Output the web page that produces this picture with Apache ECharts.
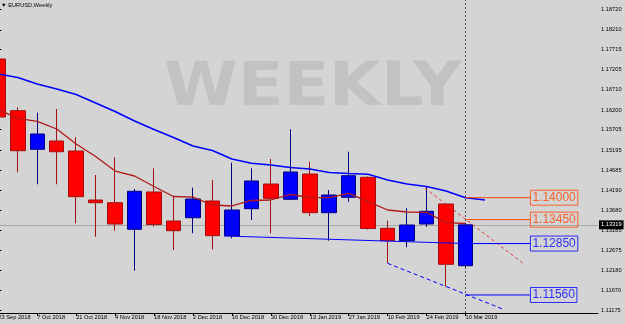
<!DOCTYPE html>
<html><head><meta charset="utf-8">
<script src="https://cdn.jsdelivr.net/npm/echarts@6/dist/echarts.min.js"></script>
<style>html,body{margin:0;padding:0;background:#d4d4d4;}#c{width:625px;height:324px;}</style>
</head><body><div id="c"></div>
<script>
// ---- data (EURUSD weekly) ----
const weeks = ['23 Sep 2018','30 Sep 2018','7 Oct 2018','14 Oct 2018','21 Oct 2018','28 Oct 2018','4 Nov 2018','11 Nov 2018','18 Nov 2018','25 Nov 2018','2 Dec 2018','9 Dec 2018','16 Dec 2018','23 Dec 2018','30 Dec 2018','6 Jan 2019','13 Jan 2019','20 Jan 2019','27 Jan 2019','3 Feb 2019','10 Feb 2019','17 Feb 2019','24 Feb 2019','3 Mar 2019','10 Mar 2019'];
const open  = [1.17478,1.16182,1.15214,1.15422,1.15171,1.13942,1.13874,1.13207,1.14143,1.13415,1.13498,1.13917,1.13047,1.13724,1.14343,1.13960,1.14594,1.13624,1.14010,1.14511,1.13232,1.12921,1.13340,1.13842,1.12294];
const high  = [1.18130,1.16267,1.16132,1.16224,1.15515,1.14569,1.15013,1.14218,1.14737,1.14042,1.14251,1.14444,1.14878,1.14737,1.14970,1.15715,1.14903,1.14193,1.15153,1.14531,1.13423,1.13734,1.14293,1.13859,1.13373];
const low   = [1.15698,1.14637,1.14336,1.14336,1.13358,1.13022,1.13172,1.12169,1.13272,1.12688,1.13107,1.12706,1.12981,1.13440,1.13107,1.13942,1.13541,1.12921,1.13899,1.13202,1.12354,1.12756,1.13272,1.11768,1.12254];
const close = [1.16024,1.15178,1.15597,1.15153,1.14025,1.13874,1.13340,1.14160,1.13328,1.13172,1.13967,1.13047,1.13691,1.14419,1.13985,1.14644,1.13624,1.14067,1.14551,1.13227,1.12921,1.13315,1.13659,1.12329,1.13319];
// moving averages (slow one is shifted forward one bar)
const maSlow = [1.17102,1.17014,1.16851,1.16726,1.16588,1.16375,1.16162,1.15923,1.15710,1.15510,1.15296,1.15184,1.14970,1.14862,1.14820,1.14757,1.14720,1.14632,1.14607,1.14587,1.14444,1.14343,1.14281,1.14168,1.14000,1.13942];
const maFast = [1.16212,1.15991,1.15916,1.15723,1.15347,1.15033,1.14669,1.14544,1.14281,1.14030,1.14012,1.13817,1.13792,1.13930,1.13942,1.14085,1.14005,1.14000,1.14110,1.13899,1.13691,1.13641,1.13634,1.13373,1.13353];
// drawn objects: [bar index, price]
const trendSolid  = [[11.6, 1.1304], [24, 1.12850], [27.31, 1.12850]];
const trendDashed = [[20, 1.12354], [25.9, 1.1121]];
const trendRed    = [[21.92, 1.1424], [26.97, 1.1235]];
const levelPrices = [1.14000, 1.13450, 1.12850, 1.11560];
const levelStart = 24, levelEnd = 27.31;
const lastPrice = 1.13319;
const yTicks = [1.11175,1.11670,1.12180,1.12675,1.13185,1.13680,1.14190,1.14685,1.15195,1.15705,1.16200,1.16710,1.17205,1.17715,1.18210,1.18720];
const xTicks = [0,2,4,6,8,10,12,14,16,18,20,22,24];

// ---- chart ----
const ORANGE = '#ff4500', BLUE = '#0000ff';
const levelColors = [ORANGE, ORANGE, BLUE, BLUE];
const small = {fontSize: 5.7, color: '#000', fontFamily: 'Liberation Sans, Arial, sans-serif'};
const chart = echarts.init(document.getElementById('c'));
const lineS = (data, color, width, type, z) => ({type:'line', data, symbol:'none', silent:true, z: z||3,
  lineStyle:{color, width, type: type||'solid'}});
chart.setOption({
  animation: false,
  backgroundColor: '#d4d4d4',
  title: [
    {text: '▼ EURUSD,Weekly', left: 1, top: 2, padding: 0,
     textStyle: Object.assign({fontWeight: 'normal'}, small)}
  ],
  graphic: [
    {type: 'text', x: 164, y: 89.4, scaleX: 1.096, z: 0, silent: true,
     style: {text: 'WEEKLY', fill: '#c2c2c2', fontSize: 61, fontWeight: 'bold', fontFamily: 'DejaVu Sans',
       align: 'left', verticalAlign: 'middle'}}
  ],
  grid: {left: -1.67, right: 27, top: 0, bottom: 11, outerBoundsMode: 'none', containLabel: false},
  xAxis: {type: 'value', min: 0, max: 30.808,
    axisLine: {show: true, lineStyle: {color: '#000', width: 1}},
    axisTick: {show: true, customValues: xTicks, length: 3, lineStyle: {color: '#000'}},
    axisLabel: Object.assign({customValues: xTicks, formatter: v => weeks[Math.round(v)], align: 'left', margin: 1}, small),
    splitLine: {show: false}},
  yAxis: {type: 'value', position: 'right', min: 1.11108, max: 1.18958,
    axisLine: {show: true, lineStyle: {color: '#000', width: 1}},
    axisTick: {show: true, customValues: yTicks, length: 3, lineStyle: {color: '#000'}},
    axisLabel: Object.assign({customValues: yTicks, formatter: v => v.toFixed(5), margin: 3}, small),
    splitLine: {show: false}},
  series: [
    {type: 'candlestick', z: 2,
     data: weeks.map((w, i) => [i, open[i], close[i], low[i], high[i]]),
     encode: {x: 0, y: [1, 2, 3, 4]},
     barWidth: 15,
     itemStyle: {color: '#0000ff', color0: '#ff0000', borderColor: '#000080', borderColor0: '#a01010', borderWidth: 1},
     markLine: {symbol: ['none', 'none'], silent: true, animation: false, precision: 5, z: 1,
       data: [
         {yAxis: lastPrice, lineStyle: {color: '#a8a8a8', width: 1, type: 'solid'},
          label: Object.assign({show: true, position: 'end', formatter: lastPrice.toFixed(5), backgroundColor: '#000',
            padding: [2, 2, 1, 2], distance: 1}, small, {color: '#fff'})},
         {xAxis: 24, lineStyle: {color: '#505050', width: 1, type: [2, 2]}, label: {show: false}}
       ]}},
    lineS(maSlow.map((v, i) => [i, v]), BLUE, 1.6),
    lineS(maFast.map((v, i) => [i, v]), '#b01818', 1.3),
    lineS(trendSolid, BLUE, 1),
    lineS(trendDashed, BLUE, 1, [4, 3]),
    lineS(trendRed, '#e83030', 1, [3, 3]),
    ...levelPrices.map((p, k) => lineS([[levelStart, p], [levelEnd, p]], levelColors[k], 1)),
    {type: 'scatter', symbolSize: 1, silent: true, z: 5, itemStyle: {color: 'rgba(0,0,0,0)'},
     data: levelPrices.map((p, k) => ({value: [levelEnd, p],
       label: {color: levelColors[k], borderColor: levelColors[k]}})),
     label: {show: true, position: 'right', distance: 0, formatter: d => d.value[1].toFixed(5),
       fontSize: 12, lineHeight: 14, fontFamily: "'Liberation Sans', Arial, sans-serif",
       borderWidth: 1, padding: [1, 2, 0, 2]}}
  ]
});
</script></body></html>
